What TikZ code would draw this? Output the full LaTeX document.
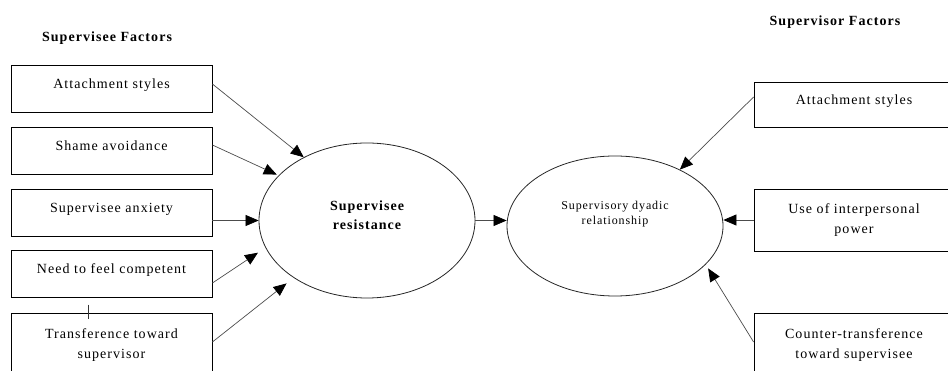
\documentclass[tikz,border=0pt]{standalone}
\usepackage{fontspec}
\setmainfont{Liberation Serif}[LetterSpace=7.5]
\usetikzlibrary{arrows.meta,shapes.geometric,calc}

\begin{document}
\begin{tikzpicture}[x=1pt,y=1pt,yscale=-1,xscale=1,
  factor/.style={draw=black,line width=0.8pt,rectangle,minimum width=201pt,minimum height=47pt,inner sep=0pt,align=center,font=\fontsize{14}{20}\selectfont},
  oneline/.style={text height=10pt,text depth=10pt},
  bubble/.style={draw=black!85,line width=0.8pt,ellipse,inner sep=0pt,align=center},
  link/.style={draw=black!70,line width=0.7pt,-{Triangle[length=13pt,width=11pt,black]}},
  heading/.style={font=\fontsize{14}{17}\selectfont\bfseries,inner sep=0pt,anchor=base}]
\useasboundingbox (0,0) rectangle (948,371);

% Text Node
\node [heading] (lhead) at (107,42) {Supervisee Factors};
% Text Node
\node [heading] (rhead) at (835,26) {Supervisor Factors};

%Shape: Rectangle [supervisee side]
\node [factor,oneline] (a1) at (111.5,88.5) {Attachment styles};
\node [factor,oneline] (a2) at (111.5,150.5) {Shame avoidance};
\node [factor,oneline] (a3) at (111.5,212.5) {Supervisee anxiety};
\node [factor,oneline] (a4) at (111.5,274) {Need to feel competent};
\node [factor,minimum height=64pt] (a5) at (111.5,345) {Transference toward\\supervisor};

%Shape: Rectangle [supervisor side]
\node [factor,oneline,minimum width=200pt,minimum height=45pt] (r1) at (854,104.5) {Attachment styles};
\node [factor,minimum width=200pt,minimum height=62pt] (r2) at (854,220) {Use of interpersonal\\power};
\node [factor,minimum width=200pt,minimum height=64pt] (r3) at (854,345) {Counter-transference\\toward supervisee};

%Shape: Ellipse
\node [bubble,minimum width=216pt,minimum height=155pt,font=\fontsize{14}{19}\selectfont\bfseries,text depth=10pt] (res) at (367,220.5) {Supervisee\\resistance};
%Shape: Ellipse
\node [bubble,minimum width=216pt,minimum height=140pt,font=\fontsize{12}{15}\selectfont,text depth=27pt] (dyad) at (615,226) {Supervisory dyadic\\relationship};

%Straight Lines
\draw [link] ($(a1.east)+(0,-4.5)$) -- (res.135);
\draw [link,shorten >=2pt] ($(a2.east)+(0,-5.5)$) -- (res.153);
\draw [link] (a3.east |- res.west) -- (res.west);
\draw [link,shorten >=9pt] ($(a4.east)+(0,9)$) -- (res.195);
\draw [link,shorten >=9pt] ($(a5.east)+(0,-3)$) -- (res.218);
%Straight Lines
\draw [link] (res.east) -- (dyad.west |- res.east);
%Straight Lines
\draw [link] ($(r1.west)+(0,-7.5)$) -- (dyad.41);
\draw [link] (r2.west) -- (dyad.east |- r2.west);
\draw [link,shorten >=4.6pt] ($(r3.west)+(0,-3)$) -- (dyad.337);

%Straight Lines [tick]
\draw [black!80,line width=0.6pt] ($(a5.north)+(-23.5,-8)$) -- ++(0,14);

\end{tikzpicture}
\end{document}
